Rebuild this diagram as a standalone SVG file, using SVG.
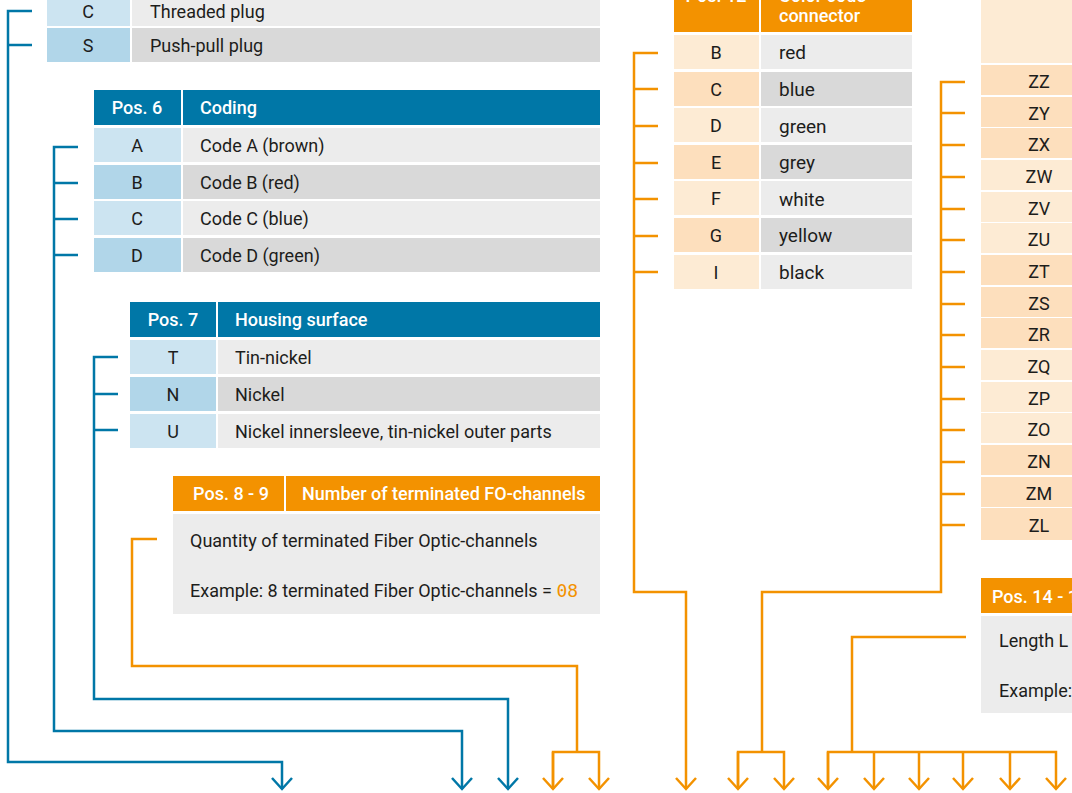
<svg xmlns="http://www.w3.org/2000/svg" width="1072" height="793" viewBox="0 0 1072 793">
<defs>
<style>
text{font-family:Roboto,"Liberation Sans",sans-serif;font-size:18px;fill:#1d1d1b}
.h{fill:#ffffff;font-weight:500}
.c{text-anchor:middle}
.big{font-size:19px}
.bh{fill:#0077a7}.b1{fill:#cce4f1}.b2{fill:#b1d6e9}
.oh{fill:#f39200}.o1{fill:#fdebd4}.o2{fill:#fddfbd}
.g1{fill:#ececec}.g2{fill:#d9d9d9}
.lb{fill:none;stroke:#0077a7;stroke-width:2.5}
.lo{fill:none;stroke:#f39200;stroke-width:2.5}
.ab{marker-end:url(#mb)}.ao{marker-end:url(#mo)}
</style>
<marker id="mb" viewBox="-14 -12 16 24" markerUnits="userSpaceOnUse" markerWidth="16" markerHeight="24" refX="0" refY="0" orient="auto"><path d="M-11,-10 L0,0 L-11,10" fill="none" stroke="#0077a7" stroke-width="2.5"/></marker>
<marker id="mo" viewBox="-14 -12 16 24" markerUnits="userSpaceOnUse" markerWidth="16" markerHeight="24" refX="0" refY="0" orient="auto"><path d="M-11,-10 L0,0 L-11,10" fill="none" stroke="#f39200" stroke-width="2.5"/></marker>
</defs>
<rect width="1072" height="793" fill="#ffffff"/>

<g id="pos5">
<rect class="b1" x="47" y="-10" width="83" height="36"/><rect class="g1" x="132" y="-10" width="468" height="36"/>
<text class="c" x="88" y="18">C</text><text x="150" y="18">Threaded plug</text>
<rect class="b2" x="47" y="28" width="83" height="34"/><rect class="g2" x="132" y="28" width="468" height="34"/>
<text class="c" x="88" y="52">S</text><text x="150" y="52">Push-pull plug</text>
</g>

<g id="pos6">
<rect class="bh" x="94" y="90" width="87" height="35"/><rect class="bh" x="183" y="90" width="417" height="35"/>
<text class="h c" x="137" y="114">Pos. 6</text><text class="h" x="200" y="114">Coding</text>
<rect class="b1" x="94" y="128" width="87" height="34"/><rect class="g1" x="183" y="128" width="417" height="34"/>
<text class="c" x="137" y="152">A</text><text x="200" y="152">Code A (brown)</text>
<rect class="b2" x="94" y="165" width="87" height="34"/><rect class="g2" x="183" y="165" width="417" height="34"/>
<text class="c" x="137" y="189">B</text><text x="200" y="189">Code B (red)</text>
<rect class="b1" x="94" y="201" width="87" height="34"/><rect class="g1" x="183" y="201" width="417" height="34"/>
<text class="c" x="137" y="225">C</text><text x="200" y="225">Code C (blue)</text>
<rect class="b2" x="94" y="238" width="87" height="34"/><rect class="g2" x="183" y="238" width="417" height="34"/>
<text class="c" x="137" y="262">D</text><text x="200" y="262">Code D (green)</text>
</g>

<g id="pos7">
<rect class="bh" x="130" y="302" width="86" height="35"/><rect class="bh" x="218" y="302" width="382" height="35"/>
<text class="h c" x="173" y="326">Pos. 7</text><text class="h" x="235" y="326">Housing surface</text>
<rect class="b1" x="130" y="340" width="86" height="34"/><rect class="g1" x="218" y="340" width="382" height="34"/>
<text class="c" x="173" y="364">T</text><text x="235" y="364">Tin-nickel</text>
<rect class="b2" x="130" y="377" width="86" height="34"/><rect class="g2" x="218" y="377" width="382" height="34"/>
<text class="c" x="173" y="401">N</text><text x="235" y="401">Nickel</text>
<rect class="b1" x="130" y="414" width="86" height="34"/><rect class="g1" x="218" y="414" width="382" height="34"/>
<text class="c" x="173" y="438">U</text><text x="235" y="438">Nickel innersleeve, tin-nickel outer parts</text>
</g>

<g id="pos8-9">
<rect class="oh" x="173" y="476" width="111" height="35"/><rect class="oh" x="286" y="476" width="314" height="35"/>
<text class="h c" x="231" y="500">Pos. 8 - 9</text><text class="h" x="302" y="500">Number of terminated FO-channels</text>
<rect class="g1" x="173" y="514" width="427" height="100"/>
<text x="190" y="547">Quantity of terminated Fiber Optic-channels</text>
<text x="190" y="597">Example: 8 terminated Fiber Optic-channels = <tspan style="fill:#f39200;font-family:'DejaVu Sans Mono',monospace">08</tspan></text>
</g>

<g id="pos12">
<rect class="oh" x="674" y="-10" width="85" height="42"/><rect class="oh" x="761" y="-10" width="151" height="42"/>
<text class="h c" x="716" y="2">Pos. 12</text><text class="h" x="779" y="2">Color code</text><text class="h" x="779" y="22">connector</text>
<rect class="o1" x="674" y="35" width="85" height="34"/><rect class="g1" x="761" y="35" width="151" height="34"/>
<text class="c" x="716" y="59">B</text><text class="big" x="779" y="59">red</text>
<rect class="o2" x="674" y="72" width="85" height="34"/><rect class="g2" x="761" y="72" width="151" height="34"/>
<text class="c" x="716" y="96">C</text><text class="big" x="779" y="96">blue</text>
<rect class="o1" x="674" y="108" width="85" height="34"/><rect class="g1" x="761" y="108" width="151" height="34"/>
<text class="c" x="716" y="132">D</text><text class="big" x="779" y="133">green</text>
<rect class="o2" x="674" y="145" width="85" height="34"/><rect class="g2" x="761" y="145" width="151" height="34"/>
<text class="c" x="716" y="169">E</text><text class="big" x="779" y="169">grey</text>
<rect class="o1" x="674" y="181" width="85" height="34"/><rect class="g1" x="761" y="181" width="151" height="34"/>
<text class="c" x="716" y="205">F</text><text class="big" x="779" y="206">white</text>
<rect class="o2" x="674" y="218" width="85" height="34"/><rect class="g2" x="761" y="218" width="151" height="34"/>
<text class="c" x="716" y="242">G</text><text class="big" x="779" y="242">yellow</text>
<rect class="o1" x="674" y="255" width="85" height="34"/><rect class="g1" x="761" y="255" width="151" height="34"/>
<text class="c" x="716" y="279">I</text><text class="big" x="779" y="279">black</text>
</g>

<g id="pos13">
<rect class="o1" x="981" y="-10" width="100" height="73"/>
<rect class="o2" x="981" y="65" width="100" height="30"/><text class="c" x="1039" y="88">ZZ</text>
<rect class="o2" x="981" y="97" width="100" height="30"/><text class="c" x="1039" y="120">ZY</text>
<rect class="o2" x="981" y="128" width="100" height="30"/><text class="c" x="1039" y="151">ZX</text>
<rect class="o1" x="981" y="160" width="100" height="30"/><text class="c" x="1039" y="183">ZW</text>
<rect class="o1" x="981" y="192" width="100" height="30"/><text class="c" x="1039" y="215">ZV</text>
<rect class="o1" x="981" y="223" width="100" height="30"/><text class="c" x="1039" y="246">ZU</text>
<rect class="o2" x="981" y="255" width="100" height="30"/><text class="c" x="1039" y="278">ZT</text>
<rect class="o2" x="981" y="287" width="100" height="30"/><text class="c" x="1039" y="310">ZS</text>
<rect class="o2" x="981" y="318" width="100" height="30"/><text class="c" x="1039" y="341">ZR</text>
<rect class="o1" x="981" y="350" width="100" height="30"/><text class="c" x="1039" y="373">ZQ</text>
<rect class="o1" x="981" y="382" width="100" height="30"/><text class="c" x="1039" y="405">ZP</text>
<rect class="o1" x="981" y="413" width="100" height="30"/><text class="c" x="1039" y="436">ZO</text>
<rect class="o2" x="981" y="445" width="100" height="30"/><text class="c" x="1039" y="468">ZN</text>
<rect class="o2" x="981" y="477" width="100" height="30"/><text class="c" x="1039" y="500">ZM</text>
<rect class="o2" x="981" y="508" width="100" height="32"/><text class="c" x="1039" y="532">ZL</text>
</g>

<g id="pos14">
<rect class="oh" x="981" y="578" width="100" height="35"/>
<text class="h" x="992" y="603">Pos. 14 - 15</text>
<rect class="g1" x="981" y="616" width="100" height="97"/>
<text x="999" y="647">Length L</text>
<text x="999" y="697">Example:</text>
</g>

<g id="connectors">
<path class="lb ab" d="M32,11 H8 V762 H282 V789"/><path class="lb" d="M8,45 H32"/>
<path class="lb ab" d="M78,147 H54 V731 H462 V789"/><path class="lb" d="M54,183 H78 M54,219 H78 M54,255 H78"/>
<path class="lb ab" d="M118,357 H94 V699 H508 V789"/><path class="lb" d="M94,394 H118 M94,430 H118"/>
<path class="lo" d="M157,539 H132 V666 H577 V752"/>
<path class="lo ao" d="M553,789 V752 H599 V789"/><path class="lo ao" d="M553,752 V789"/>
<path class="lo ao" d="M658,53 H634 V592 H686 V789"/>
<path class="lo" d="M634,89 H658 M634,126 H658 M634,163 H658 M634,199 H658 M634,236 H658 M634,272 H658"/>
<path class="lo" d="M965,82 H941 V592 H762 V752"/>
<path class="lo" d="M941,113 H965 M941,145 H965 M941,177 H965 M941,209 H965 M941,240 H965 M941,272 H965 M941,304 H965 M941,335 H965 M941,367 H965 M941,399 H965 M941,430 H965 M941,462 H965 M941,494 H965 M941,525 H965"/>
<path class="lo ao" d="M738,789 V752 H784 V789"/><path class="lo ao" d="M738,752 V789"/>
<path class="lo" d="M966,637 H852 V752"/>
<path class="lo ao" d="M828,789 V752 H1056 V789"/><path class="lo ao" d="M828,752 V789"/>
<path class="lo ao" d="M874,752 V789"/><path class="lo ao" d="M919,752 V789"/><path class="lo ao" d="M963,752 V789"/><path class="lo ao" d="M1010,752 V789"/>
</g>
</svg>
